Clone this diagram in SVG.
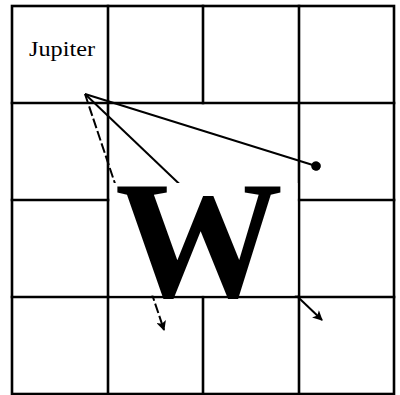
<svg xmlns="http://www.w3.org/2000/svg" width="400" height="395" viewBox="0 0 400 395">
  <style>
    .grid { stroke: #000; stroke-width: 2.6; fill: none; stroke-linecap: square; }
    .conn { stroke: #000; stroke-width: 2; fill: none; }
    .dash { stroke-dasharray: 10 3; }
    .label { font-family: "Liberation Serif", "Times New Roman", serif; fill: #000; }
  </style>
  <defs>
    <marker id="dot" viewBox="0 0 10 10" refX="5" refY="5" markerWidth="10" markerHeight="10" markerUnits="userSpaceOnUse" orient="auto">
      <circle cx="5" cy="5" r="4.8" fill="#000"/>
    </marker>
    <marker id="arrow" viewBox="0 0 10 10" refX="9" refY="5" markerWidth="11" markerHeight="10" markerUnits="userSpaceOnUse" orient="auto">
      <path d="M0,0 L10,5 L0,10 L2.5,5 Z" fill="#000"/>
    </marker>
  </defs>
  <rect width="400" height="395" fill="#fff"/>

  <g id="grid" class="grid">
    <rect x="12" y="6" width="382" height="388"/>
    <line x1="12" y1="103" x2="394" y2="103"/>
    <line x1="12" y1="200" x2="108" y2="200"/>
    <line x1="299" y1="200" x2="394" y2="200"/>
    <line x1="12" y1="297" x2="394" y2="297"/>
    <line x1="108" y1="6" x2="108" y2="394"/>
    <line x1="203" y1="6" x2="203" y2="103"/>
    <line x1="203" y1="297" x2="203" y2="394"/>
    <line x1="299" y1="6" x2="299" y2="394"/>
  </g>

  <g id="connectors">
    <line class="conn" x1="85" y1="94" x2="316" y2="166" marker-end="url(#dot)"/>
    <line class="conn" x1="85" y1="94" x2="322" y2="320" marker-end="url(#arrow)"/>
    <line class="conn dash" x1="85" y1="94" x2="164" y2="330" marker-end="url(#arrow)"/>
  </g>

  <g id="jupiter">
    <text class="label" x="29" y="56" font-size="21" textLength="66" lengthAdjust="spacingAndGlyphs">Jupiter</text>
  </g>

  <g id="w">
    <rect x="110" y="183" width="187.5" height="112.5" fill="#fff"/>
    <text class="label" x="199" y="296" font-size="168" font-weight="bold" text-anchor="middle">W</text>
  </g>
</svg>
